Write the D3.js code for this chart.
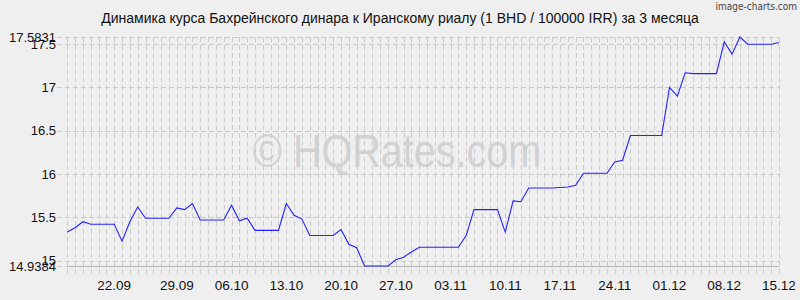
<!DOCTYPE html>
<html lang="ru">
<head>
<meta charset="UTF-8">
<title>BHD / IRR</title>
<script src="https://cdn.jsdelivr.net/npm/d3@7/dist/d3.min.js"></script>
<style>
  body { margin: 0; background: #efefef; }
  svg { display: block; font-family: "Liberation Sans", Arial, sans-serif; }
</style>
</head>
<body>
<svg width="800" height="300"></svg>
<script>
// dates as they sit on the x axis (the source repeats 22.09)
var dates = ["16.09","17.09","18.09","19.09","20.09","21.09","22.09","22.09","23.09","24.09",
  "25.09","26.09","27.09","28.09","29.09","30.09","01.10","02.10","03.10","04.10",
  "05.10","06.10","07.10","08.10","09.10","10.10","11.10","12.10","13.10","14.10",
  "15.10","16.10","17.10","18.10","19.10","20.10","21.10","22.10","23.10","24.10",
  "25.10","26.10","27.10","28.10","29.10","30.10","31.10","01.11","02.11","03.11",
  "04.11","05.11","06.11","07.11","08.11","09.11","10.11","11.11","12.11","13.11",
  "14.11","15.11","16.11","17.11","18.11","19.11","20.11","21.11","22.11","23.11",
  "24.11","25.11","26.11","27.11","28.11","29.11","30.11","01.12","02.12","03.12",
  "04.12","05.12","06.12","07.12","08.12","09.12","10.12","11.12","12.12","13.12",
  "14.12","15.12"];

var rates = [15.33,15.38,15.45,15.42,15.42,15.42,15.42,15.225,15.45,15.62,
  15.49,15.49,15.49,15.49,15.61,15.59,15.66,15.47,15.47,15.47,
  15.47,15.64,15.46,15.49,15.35,15.35,15.35,15.35,15.66,15.525,
  15.48,15.29,15.29,15.29,15.29,15.36,15.19,15.15,14.9384,14.9384,
  14.9384,14.9384,15.01,15.04,15.10,15.155,15.155,15.155,15.155,15.155,
  15.155,15.29,15.59,15.59,15.59,15.59,15.33,15.69,15.68,15.84,
  15.84,15.84,15.84,15.845,15.85,15.87,16.01,16.01,16.01,16.01,
  16.14,16.16,16.445,16.445,16.445,16.445,16.445,17.0,16.90,17.17,
  17.16,17.16,17.16,17.16,17.527,17.385,17.5831,17.50,17.50,17.50,
  17.50,17.52];

var xLabels = ["22.09","29.09","06.10","13.10","20.10","27.10","03.11","10.11","17.11","24.11","01.12","08.12","15.12"];
var yTicks = [14.9384, 15, 15.5, 16, 16.5, 17, 17.5, 17.5831];

var svg = d3.select("svg");
var m = {left: 67.3, right: 779, top: 37, bottom: 266};

var x = d3.scaleLinear().domain([0, rates.length - 1]).range([m.left, m.right]);
var y = d3.scaleLinear().domain([d3.min(rates), d3.max(rates)]).range([m.bottom, m.top]);

// title + credits
svg.append("text")
  .attr("x", 400).attr("y", 23)
  .attr("text-anchor", "middle")
  .attr("font-size", 14).attr("fill", "#111")
  .text("Динамика курса Бахрейнского динара к Иранскому риалу (1 BHD / 100000 IRR) за 3 месяца");
svg.append("text")
  .attr("x", 797).attr("y", 10)
  .attr("text-anchor", "end")
  .attr("font-size", 10).attr("fill", "#444")
  .attr("font-family", "'DejaVu Sans Condensed', sans-serif")
  .text("image-charts.com");

// watermark
svg.append("text")
  .attr("transform", "translate(397,167) scale(0.86,1)")
  .attr("text-anchor", "middle")
  .attr("font-size", 46).attr("fill", "#d2d2d2")
  .text("© HQRates.com");

// vertical grid, one line per day
svg.append("g").selectAll("line")
  .data(d3.range(rates.length))
  .enter().append("line")
  .attr("x1", function(d) { return Math.round(x(d)) + 0.5; })
  .attr("x2", function(d) { return Math.round(x(d)) + 0.5; })
  .attr("y1", m.top).attr("y2", m.bottom + 9)
  .attr("stroke", "#cbcbcb")
  .attr("stroke-dasharray", "5,3");

// horizontal grid + y labels
var yg = svg.append("g");
yg.selectAll("line")
  .data(yTicks)
  .enter().append("line")
  .attr("x1", 57).attr("x2", m.right)
  .attr("y1", function(d) { return Math.round(y(d)) + 0.5; })
  .attr("y2", function(d) { return Math.round(y(d)) + 0.5; })
  .attr("stroke", "#c8c8c8")
  .attr("stroke-dasharray", "5,3");
yg.selectAll("text")
  .data(yTicks)
  .enter().append("text")
  .attr("x", 56)
  .attr("y", function(d) { return y(d); })
  .attr("dy", "0.36em")
  .attr("text-anchor", "end")
  .attr("font-size", 13).attr("fill", "#111")
  .text(function(d) { return (d === yTicks[0] || d === yTicks[yTicks.length - 1]) ? d.toFixed(4) : d3.format("")(d); });

// bottom axis line
svg.append("line")
  .attr("x1", m.left).attr("x2", m.right)
  .attr("y1", m.bottom + 0.5).attr("y2", m.bottom + 0.5)
  .attr("stroke", "#b4b4b4");

// x labels
svg.append("g").selectAll("text")
  .data(xLabels)
  .enter().append("text")
  .attr("x", function(d) { return x(dates.indexOf(d)); })
  .attr("y", 290)
  .attr("text-anchor", "middle")
  .attr("font-size", 13.5).attr("fill", "#111")
  .text(function(d) { return d; });

// rate line
var line = d3.line()
  .x(function(d, i) { return x(i); })
  .y(function(d) { return y(d); });
svg.append("path")
  .datum(rates)
  .attr("d", line)
  .attr("fill", "none")
  .attr("stroke", "#2222ff")
  .attr("stroke-width", 1.1);
</script>
</body>
</html>
